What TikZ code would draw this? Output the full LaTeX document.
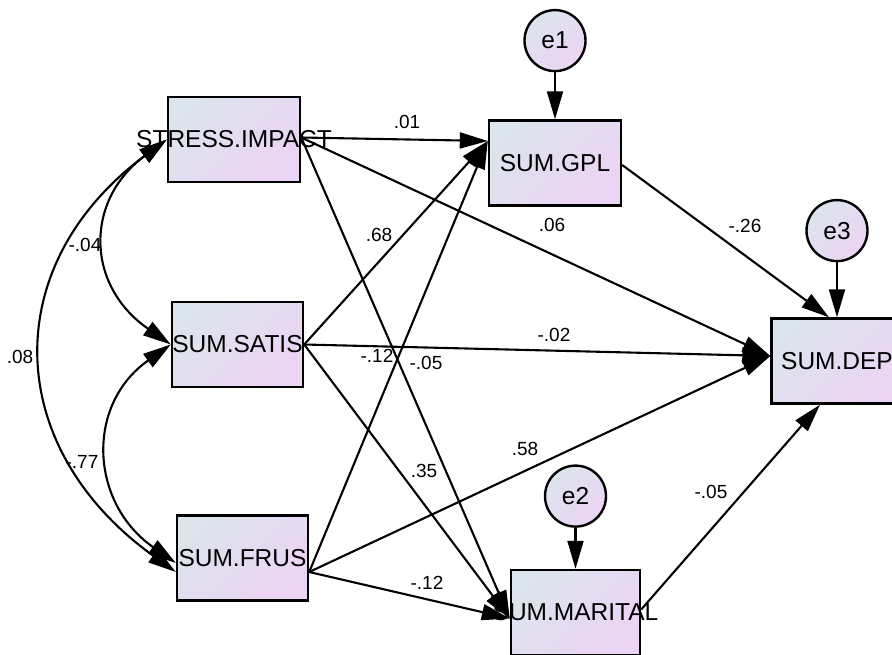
\documentclass[tikz,border=0pt]{standalone}
\usepackage{fontspec}
\setmainfont{Liberation Sans}
\usetikzlibrary{arrows.meta, positioning}
\definecolor{boxA}{RGB}{220,228,236}
\definecolor{boxB}{RGB}{236,212,244}
\newcommand{\spill}[1]{\makebox[0pt]{#1}}
\tikzset{
    var/.style={rectangle, draw, line width=2.4pt, top color=boxA, bottom color=boxB, shading angle=45, minimum width=131pt, minimum height=85pt, inner sep=0pt, font=\fontsize{24.5}{28}\selectfont},
    err/.style={circle, draw, line width=2.4pt, top color=boxA, bottom color=boxB, shading angle=45, minimum size=61pt, inner sep=0pt, font=\fontsize{24.5}{28}\selectfont},
    reg/.style={line width=2.1pt, -{Triangle[length=28pt, width=16pt]}},
    cov/.style={line width=2.1pt, {Triangle[length=28pt, width=16pt]}-{Triangle[length=28pt, width=16pt]}},
    coef/.style={inner sep=0pt, font=\fontsize{19}{21}\selectfont}
}
\begin{document}
\begin{tikzpicture}[x=1pt, y=-1pt]
    \useasboundingbox (0,0) rectangle (892,655);

    % Observed variables
    \node (impact) [var, minimum width=132pt] at (234,139.5) {\spill{STRESS.IMPACT}};
    \node (satis) [var] at (237.5,344.5) {SUM.SATIS};
    \node (frus) [var] at (242.5,558) {SUM.FRUS};
    \node (gpl) [var, minimum width=132pt] at (555,163) {SUM.GPL};
    \node (dep) [var] at (837,361) {SUM.DEP};
    \node (marital) [var, minimum width=129pt] at (575.5,612.5) {\spill{SUM.MARITAL}};

    % Error terms
    \node (e1) [err, above=47pt of gpl] {e1};
    \node (e3) [err, above=55pt of dep] {e3};
    \node (e2) [err, above=41pt of marital] {e2};

    % Covariances
    \draw [cov] (impact.west) .. controls (-2,265) and (2,447) .. ([yshift=-14pt]frus.west);
    \draw [cov] (impact.west) .. controls (85,200) and (85,285) .. (satis.west);
    \draw [cov] (satis.west) .. controls (85,405) and (90,503) .. ([yshift=-5pt]frus.west);

    % Regression paths
    \draw [reg] ([yshift=2pt]impact.east) -- ([yshift=22pt]gpl.west);
    \draw [reg] ([yshift=2pt]impact.east) -- ([yshift=5pt]dep.west);
    \draw [reg] ([yshift=2pt]impact.east) -- ([yshift=-6pt]marital.west);
    \draw [reg] (satis.east) -- ([yshift=22pt]gpl.west);
    \draw [reg] (satis.east) -- ([yshift=5pt]dep.west);
    \draw [reg] (satis.east) -- ([yshift=-6pt]marital.west);
    \draw [reg] ([yshift=-14pt]frus.east) -- ([yshift=22pt]gpl.west);
    \draw [reg] ([yshift=-14pt]frus.east) -- ([yshift=5pt]dep.west);
    \draw [reg] ([yshift=-14pt]frus.east) -- ([yshift=-6pt]marital.west);
    \draw [reg] ([yshift=-2pt]gpl.east) -- ([xshift=-8pt]dep.north);
    \draw [reg] ([yshift=3pt]marital.east) -- ([xshift=-17pt]dep.south);
    \draw [reg] (e1) -- (gpl);
    \draw [reg] (e3) -- (dep);
    \draw [reg] (e2) -- (marital);

    % Estimates
    \node (c08) [coef] at (20,357) {.08};
    \node (c04) [coef] at (85,245) {-.04};
    \node (c77) [coef] at (82,462) {-.77};
    \node (c01) [coef] at (407,122) {.01};
    \node (c68) [coef] at (379,235) {.68};
    \node (c12a) [coef] at (377,356) {-.12};
    \node (c05a) [coef] at (426,363) {-.05};
    \node (c06) [coef] at (552,225) {.06};
    \node (c02) [coef] at (554,335) {-.02};
    \node (c58) [coef] at (525,449) {.58};
    \node (c35) [coef] at (424,471) {.35};
    \node (c12b) [coef] at (427,583) {-.12};
    \node (c26) [coef] at (745,226) {-.26};
    \node (c05b) [coef] at (711,492) {-.05};

\end{tikzpicture}
\end{document}
